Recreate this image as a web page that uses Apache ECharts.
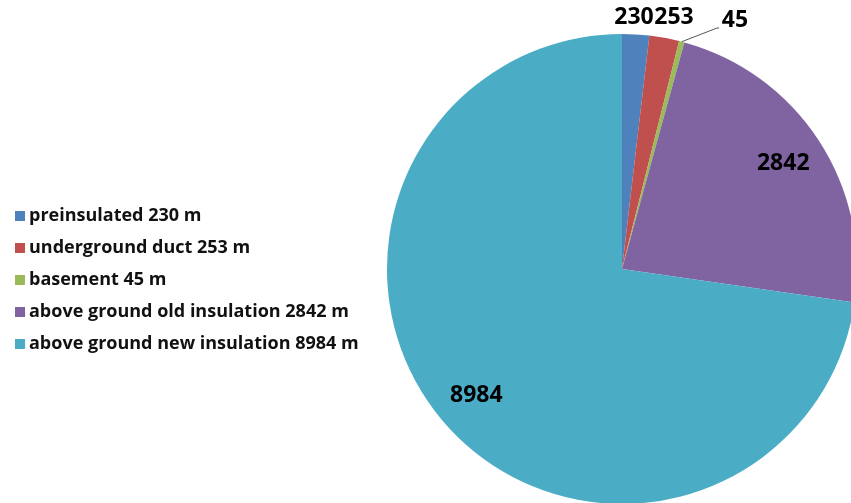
<!DOCTYPE html>
<html><head><meta charset="utf-8">
<script src="https://cdn.jsdelivr.net/npm/echarts@6/dist/echarts.min.js"></script>
<style>html,body{margin:0;padding:0;background:#fff}#c{width:851px;height:503px}</style>
</head><body><div id="c"></div>
<script>
const categories = ['preinsulated', 'underground duct', 'basement', 'above ground old insulation', 'above ground new insulation'];
const values = [230, 253, 45, 2842, 8984];
const unit = 'm';
const colors = ['#4F81BD', '#C0504D', '#9BBB59', '#8064A2', '#4BACC6'];

const CX = 622, CY = 269, R = 235;
const total = values.reduce((a, b) => a + b, 0);
function midAngle(i) {
  let before = 0;
  for (let k = 0; k < i; k++) before += values[k];
  const mid = before + values[i] / 2;
  return (90 - mid / total * 360) * Math.PI / 180;
}
function edgePoint(i, f) {
  const a = midAngle(i);
  return [CX + R * f * Math.cos(a), CY - R * f * Math.sin(a)];
}

const chart = echarts.init(document.getElementById('c'));
chart.setOption({
  animation: false,
  color: colors,
  legend: {
    orient: 'vertical', left: 10, top: 202,
    itemWidth: 10, itemHeight: 10, itemGap: 14,
    icon: 'rect',
    textStyle: { fontFamily: 'Open Sans', fontWeight: 'bold', fontSize: 18, color: '#111', padding: [0, 0, 0, -1] },
    formatter: name => name + ' ' + values[categories.indexOf(name)] + ' ' + unit
  },
  series: [{
    type: 'pie',
    center: [CX, CY], radius: R,
    startAngle: 90, clockwise: true,
    data: categories.map((c, i) => ({
      name: c, value: values[i],
      label: { position: i >= 3 ? 'inside' : 'outside' },
      labelLine: { show: i === 2 }
    })),
    label: {
      show: true, formatter: '{c}',
      fontFamily: 'Open Sans', fontWeight: 'bold', fontSize: 23, color: '#000'
    },
    labelLine: { lineStyle: { color: '#555', width: 1 }, length: 10, length2: 10 },
    itemStyle: { borderWidth: 0 },
    labelLayout: function (p) {
      const i = p.dataIndex;
      if (i >= 3) {
        const pt = edgePoint(i, 0.82);
        return { x: pt[0], y: pt[1], align: 'center', verticalAlign: 'middle' };
      }
      if (i === 0) return { x: 634, y: 17, align: 'center', verticalAlign: 'middle' };
      if (i === 1) return { x: 674, y: 17, align: 'center', verticalAlign: 'middle' };
      const e = edgePoint(2, 1);
      return { x: 735, y: 20, align: 'center', verticalAlign: 'middle', labelLinePoints: [e, [717, 28], [719, 28]] };
    }
  }]
});
</script></body></html>
